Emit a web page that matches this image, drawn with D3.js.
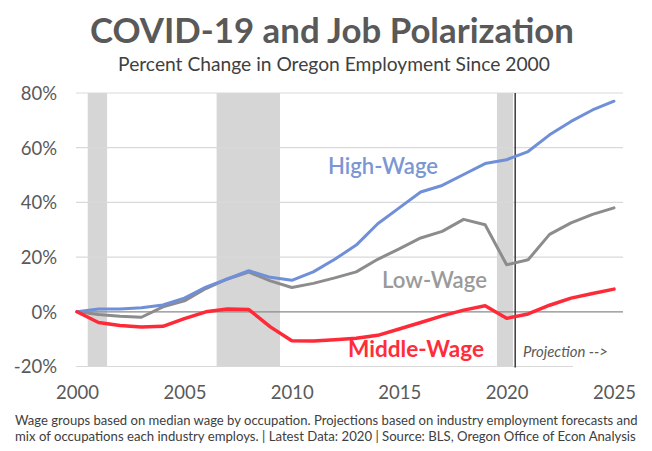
<!DOCTYPE html>
<html>
<head>
<meta charset="utf-8">
<script src="https://cdn.jsdelivr.net/npm/d3@7"></script>
<style>
  html, body { margin: 0; padding: 0; background: #fff; }
  svg { display: block; font-family: Lato, "Open Sans", "DejaVu Sans", sans-serif; }
</style>
</head>
<body>
<svg id="chart" width="652" height="451"></svg>
<script>
// Percent change in Oregon employment since 2000, by wage group
const years = [2000, 2001, 2002, 2003, 2004, 2005, 2006, 2007, 2008, 2009,
               2010, 2011, 2012, 2013, 2014, 2015, 2016, 2017, 2018, 2019,
               2020, 2021, 2022, 2023, 2024, 2025];
const highWage   = [0, 1, 1, 1.5, 2.5, 5, 9, 12, 15, 12.6,
                    11.5, 14.6, 19.2, 24.4, 32.2, 38, 43.8, 46.2, 50.2, 54.2,
                    55.6, 58.6, 64.7, 69.6, 73.8, 77];
const lowWage    = [0, -1, -1.6, -2, 1.8, 4, 8.5, 12, 14.5, 11.3,
                    8.9, 10.4, 12.4, 14.6, 19.2, 23, 27, 29.4, 33.8, 31.8,
                    17.2, 19, 28.3, 32.5, 35.6, 38];
const middleWage = [0, -3.9, -5, -5.6, -5.3, -2.5, 0, 1, 0.8, -5.5,
                    -10.6, -10.7, -10.2, -9.7, -8.6, -6.3, -3.9, -1.5, 0.6, 2.2,
                    -2.4, -0.8, 2.4, 5, 6.7, 8.3];

const yTicks = [-20, 0, 20, 40, 60, 80];
const xTicks = [2000, 2005, 2010, 2015, 2020, 2025];

// Recession periods shaded on the chart, and start of the projection
const recessions = [[2000.5, 2001.4], [2006.5, 2009.45], [2019.55, 2020.3]];
const projectionStart = 2020.4;

const titleText = "COVID-19 and Job Polarization";
const subtitleText = "Percent Change in Oregon Employment Since 2000";
const noteLines = [
  "Wage groups based on median wage by occupation. Projections based on industry employment forecasts and",
  "mix of occupations each industry employs. | Latest Data: 2020 | Source: BLS, Oregon Office of Econ Analysis"
];

const svg = d3.select("#chart");
svg.append("rect").attr("width", 652).attr("height", 451).attr("fill", "#fff");

const x = d3.scaleLinear().domain([2000, 2025]).range([77, 614]);
const y = d3.scaleLinear().domain([-20, 80]).range([366.5, 93]);
const plotRight = 623;

// scale a text element's font size so it spans a given width
function fitWidth(sel, width) {
  const node = sel.node();
  const fs = parseFloat(sel.attr("font-size"));
  const w = node.getComputedTextLength();
  if (w > 0) sel.attr("font-size", (fs * width / w).toFixed(2));
  return sel;
}

// recession shading
svg.append("g").selectAll("rect").data(recessions).join("rect")
  .attr("x", d => x(d[0]))
  .attr("width", d => x(d[1]) - x(d[0]))
  .attr("y", y(80))
  .attr("height", y(-20) - y(80))
  .attr("fill", "#d6d6d6");

// horizontal gridlines
const yAxis = d3.axisLeft(y).tickValues(yTicks).tickSize(0).tickFormat(d => d + "%");
const gy = svg.append("g").attr("transform", "translate(57,0)").call(yAxis);
gy.select(".domain").remove();
gy.selectAll("text")
  .attr("x", 0).attr("dy", "0.35em")
  .attr("font-size", 18.5).attr("fill", "#595959")
  .attr("font-family", "Lato, 'Open Sans', sans-serif");

svg.append("g").selectAll("line").data(yTicks.filter(v => v !== 0)).join("line")
  .attr("x1", x(2000) - 1)
  .attr("x2", d => d === -20 ? 573 : plotRight)
  .attr("y1", d => y(d)).attr("y2", d => y(d))
  .attr("stroke", "#d9d9d9").attr("stroke-width", 1.2);

// zero line
svg.append("line")
  .attr("x1", x(2000) - 1).attr("x2", plotRight)
  .attr("y1", y(0)).attr("y2", y(0))
  .attr("stroke", "#8a8a8a").attr("stroke-width", 1.3);

// projection divider
svg.append("line")
  .attr("x1", x(projectionStart)).attr("x2", x(projectionStart))
  .attr("y1", y(80)).attr("y2", y(-20) + 1)
  .attr("stroke", "#3a3a3a").attr("stroke-width", 1.5);

// x axis labels
const xAxis = d3.axisBottom(x).tickValues(xTicks).tickSize(0).tickFormat(d3.format("d"));
const gx = svg.append("g").attr("transform", "translate(0,393)").call(xAxis);
gx.select(".domain").remove();
gx.selectAll("text")
  .attr("y", 0).attr("dy", "0.35em")
  .attr("font-size", 18.5).attr("fill", "#595959")
  .attr("font-family", "Lato, 'Open Sans', sans-serif");

// series lines
const series = [
  { name: "Low-Wage", values: lowWage, color: "#8c8c8c", width: 3 },
  { name: "High-Wage", values: highWage, color: "#6f8fd8", width: 3 },
  { name: "Middle-Wage", values: middleWage, color: "#ff2a38", width: 3.5 }
];
const line = d3.line().x(d => x(d[0])).y(d => y(d[1]));
svg.append("g").selectAll("path").data(series).join("path")
  .attr("d", s => line(years.map((yr, i) => [yr, s.values[i]])))
  .attr("fill", "none")
  .attr("stroke", s => s.color)
  .attr("stroke-width", s => s.width)
  .attr("stroke-linejoin", "round")
  .attr("stroke-linecap", "round");

// series labels
const labels = [
  { text: "High-Wage", x: 328, y: 174, w: 110, color: "#7b97d3", weight: 600 },
  { text: "Low-Wage", x: 382, y: 288, w: 105, color: "#9a9a9a", weight: 600 },
  { text: "Middle-Wage", x: 348, y: 357, w: 136, color: "#ff2d3c", weight: 700 }
];
labels.forEach(l => {
  const t = svg.append("text")
    .attr("x", l.x).attr("y", l.y)
    .attr("font-size", 20).attr("font-weight", l.weight)
    .attr("fill", l.color).text(l.text);
  fitWidth(t, l.w);
});

const proj = svg.append("text")
  .attr("x", 523).attr("y", 357)
  .attr("font-size", 13).attr("font-style", "italic")
  .attr("fill", "#595959").text("Projection -->");
fitWidth(proj, 85);

// titles
const title = svg.append("text")
  .attr("x", 332).attr("y", 43).attr("text-anchor", "middle")
  .attr("font-size", 32).attr("font-weight", 700)
  .attr("fill", "#595959").text(titleText);
fitWidth(title, 484);

const subtitle = svg.append("text")
  .attr("x", 334).attr("y", 71).attr("text-anchor", "middle")
  .attr("font-size", 17).attr("fill", "#404040").text(subtitleText);
fitWidth(subtitle, 432);

// footnote
noteLines.forEach((txt, i) => {
  const t = svg.append("text")
    .attr("x", 15).attr("y", 425 + i * 16)
    .attr("font-size", 11).attr("fill", "#404040").text(txt);
  fitWidth(t, i === 0 ? 623 : 621);
});
</script>
</body>
</html>
